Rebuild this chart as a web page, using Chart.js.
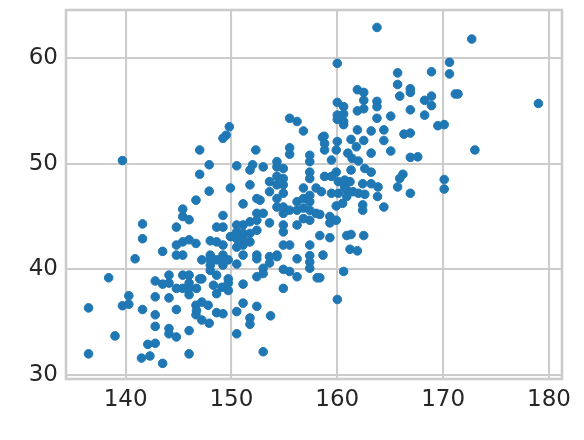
<!DOCTYPE html>
<html>
<head>
<meta charset="utf-8">
<script src="https://cdn.jsdelivr.net/npm/chart.js@4/dist/chart.umd.min.js"></script>
<style>
html,body{margin:0;padding:0;background:#fff;}
#wrap{width:584px;height:440px;}
</style>
</head>
<body>
<div id="wrap"><canvas id="c" width="584" height="440"></canvas></div>
<script>
const xTicks = [140, 150, 160, 170, 180];
const yTicks = [30, 40, 50, 60];
const heights = [
149.8,149.5,149.2,155.5,156.2,156.8,158.6,
163.75,160.0,165.7,165.7,165.9,166.9,166.9,166.9,168.9,170.6,170.6,161.9,162.5,162.5,162.5,161.9,160.0,160.6,160.0,160.6,160.0,160.6,160.6,163.75,163.75,163.75,165.05,168.25,168.9,168.9,168.25,169.5,170.1,161.9,163.2,164.4,166.3,166.9,158.75,161.3,162.5,164.4,160.0,
172.7,171.15,171.4,179.0,
139.7,147.0,147.0,146.65,145.4,145.4,146.0,144.8,141.6,141.6,144.8,145.4,146.0,146.65,145.4,144.8,143.5,140.9,
152.3,155.5,155.5,157.4,157.4,147.9,150.5,152.0,151.75,153.0,154.3,154.3,154.9,157.4,154.3,154.9,153.6,154.3,154.9,157.4,156.8,158.0,151.75,149.9,147.9,153.6,154.9,154.3,156.8,157.4,157.4,156.2,152.4,152.7,151.1,154.3,154.9,155.5,156.2,156.8,157.4,158.0,154.9,152.4,153.0,149.2,157.4,156.8,152.4,151.75,151.1,150.5,148.6,149.2,153.6,154.9,154.9,156.2,152.4,151.75,151.1,150.5,149.9,150.5,151.1,151.75,148.0,148.6,149.2,150.5,151.1,154.9,155.5,157.4,148.0,149.2,151.1,152.4,154.3,157.4,158.65,
158.8,158.8,159.9,161.8,163.2,165.05,161.0,161.4,162.0,159.45,166.9,167.6,161.3,162.6,163.2,159.9,158.8,159.45,160.1,160.7,161.2,160.7,162.4,163.2,163.85,166.2,165.9,165.7,170.1,170.1,158.5,159.45,160.1,160.9,161.5,162.0,162.6,163.8,166.9,160.9,160.5,159.9,162.4,162.4,164.4,158.35,159.3,159.3,159.9,158.35,159.3,160.9,161.3,162.5,161.2,161.9,
173.0,
138.4,144.1,142.8,143.5,144.1,145.4,146.0,146.0,144.8,145.4,146.0,147.0,146.0,140.3,139.7,140.3,136.5,142.8,144.1,141.6,142.8,144.8,146.65,146.65,142.8,144.1,144.1,144.8,146.0,139.0,142.1,142.8,136.5,141.5,142.3,143.5,146.0,
147.2,148.0,148.6,149.2,149.7,152.4,153.6,154.3,156.2,157.4,148.0,148.0,149.2,150.5,153.0,153.6,154.9,155.5,156.2,157.4,158.1,152.4,153.0,147.2,148.6,149.7,148.3,149.1,149.7,149.7,148.6,146.7,151.1,154.9,147.2,147.8,146.7,147.2,147.9,148.6,149.2,151.1,150.5,152.4,151.75,151.75,153.7,150.5,153.0,
160.6,158.35,160.0
];
const weights = [
53.5,52.7,52.4,54.3,54.0,53.1,52.5,
62.9,59.5,58.6,57.5,56.4,57.1,56.75,55.1,58.7,59.6,58.5,57.0,56.75,56.0,55.2,55.0,55.8,55.4,54.6,54.7,54.2,54.0,53.7,55.9,55.4,54.3,54.5,56.0,56.4,55.5,54.6,53.6,53.7,53.2,53.1,53.2,52.8,52.9,52.6,52.3,52.2,52.2,52.1,
61.8,56.6,56.6,55.7,
50.3,51.3,49.0,46.55,45.7,45.0,44.7,44.0,44.3,42.9,42.3,42.6,42.8,42.45,41.35,41.35,41.7,41.0,
51.3,51.5,50.9,50.8,50.2,49.9,49.8,49.9,49.4,49.7,50.2,49.7,49.55,49.2,48.8,48.6,48.3,48.0,48.0,48.6,47.7,47.7,48.0,47.7,47.4,47.35,47.2,46.7,46.7,47.0,46.4,46.4,46.7,46.55,46.2,45.9,45.9,45.6,45.6,45.8,45.6,45.3,45.3,45.3,45.3,45.1,44.65,44.8,44.65,44.5,44.2,44.2,44.0,44.0,44.4,44.2,43.55,44.2,43.7,43.4,43.4,43.55,43.1,42.9,42.9,42.6,42.7,42.6,42.3,42.1,42.3,42.3,42.3,42.3,41.35,41.35,41.35,41.35,41.35,41.3,41.35,
51.9,51.3,51.3,51.6,51.0,51.2,51.0,50.5,50.25,50.35,50.6,50.65,49.4,49.55,49.2,49.2,48.8,48.8,48.3,48.45,48.3,47.8,48.1,48.1,47.8,49.0,48.6,47.8,48.5,47.6,47.35,47.2,47.2,47.5,47.35,47.2,47.1,46.9,47.2,46.9,46.25,46.0,46.1,45.6,45.9,45.2,45.0,44.4,44.65,43.2,43.0,43.2,43.3,43.2,41.9,41.75,
51.3,
39.2,39.45,38.9,38.6,38.7,39.45,39.45,38.7,38.2,38.2,38.2,39.1,37.6,37.5,36.55,36.7,36.35,37.4,37.3,36.2,35.7,36.2,36.6,35.7,34.6,34.4,33.9,33.6,34.2,33.7,32.9,33.0,32.0,31.6,31.8,31.1,32.0,
40.9,40.9,40.9,40.9,40.9,41.0,41.2,41.2,41.0,40.7,40.4,39.9,40.4,40.5,40.1,40.6,40.0,39.8,39.3,40.1,39.2,39.3,39.6,39.1,39.45,39.1,38.5,38.3,38.7,38.0,37.7,38.2,38.6,38.2,36.9,36.6,36.1,35.2,34.9,35.9,35.8,36.8,36.0,36.5,35.4,34.8,35.6,33.9,32.2,
39.8,39.2,37.15
];

const points = heights.map((h, i) => ({x: h, y: weights[i]}));

const gridColor = '#cccccc';
const textColor = '#262626';
const fontFamily = "'DejaVu Sans', sans-serif";

const frame = {
  id: 'frame',
  afterDatasetsDraw(chart) {
    const a = chart.chartArea, ctx = chart.ctx;
    ctx.save();
    ctx.strokeStyle = gridColor;
    ctx.lineWidth = 2.6;
    ctx.strokeRect(a.left, a.top, a.right - a.left, a.bottom - a.top);
    ctx.restore();
  }
};

new Chart(document.getElementById('c'), {
  type: 'scatter',
  data: {
    datasets: [{
      data: points,
      backgroundColor: '#1f77b4',
      borderColor: '#1f77b4',
      borderWidth: 1,
      pointRadius: 4.3,
      pointHoverRadius: 4.3
    }]
  },
  options: {
    responsive: false,
    animation: false,
    events: [],
    layout: { padding: { top: 10, right: 22, left: 0, bottom: 0 } },
    plugins: { legend: { display: false }, tooltip: { enabled: false } },
    scales: {
      x: {
        type: 'linear',
        min: 134.37,
        max: 181.23,
        afterBuildTicks(s) { s.ticks = xTicks.map(v => ({value: v})); },
        afterFit(s) { s.height = 61; s.paddingLeft = 0; s.paddingRight = 0; },
        grid: { color: gridColor, lineWidth: 2.1, drawTicks: false },
        border: { display: false },
        ticks: { color: textColor, font: { family: fontFamily, size: 23 }, padding: 7, maxRotation: 0 }
      },
      y: {
        type: 'linear',
        min: 29.62,
        max: 64.55,
        afterBuildTicks(s) { s.ticks = yTicks.map(v => ({value: v})); },
        afterFit(s) { s.width = 66; s.paddingTop = 0; s.paddingBottom = 0; },
        grid: { color: gridColor, lineWidth: 2.1, drawTicks: false },
        border: { display: false },
        ticks: { color: textColor, font: { family: fontFamily, size: 23 }, padding: 8 }
      }
    }
  },
  plugins: [frame]
});
</script>
</body>
</html>
